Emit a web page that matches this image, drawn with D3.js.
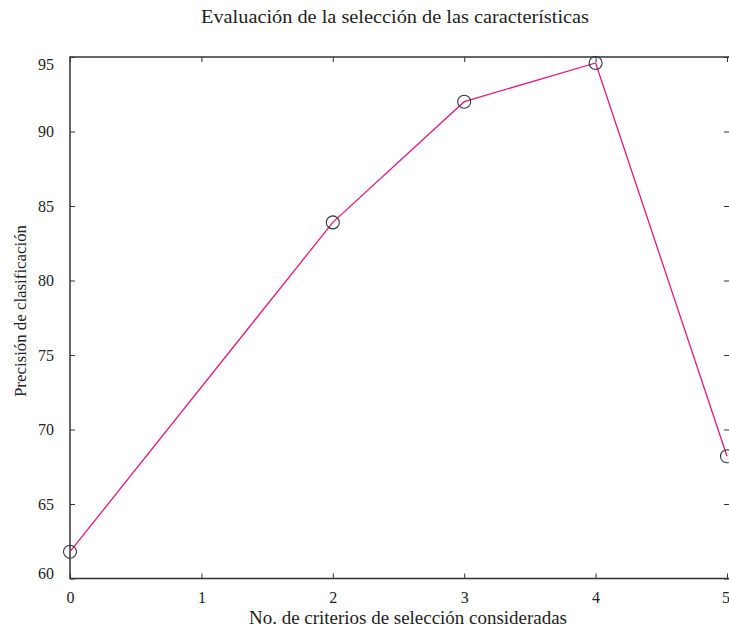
<!DOCTYPE html>
<html>
<head>
<meta charset="utf-8">
<script src="https://cdn.jsdelivr.net/npm/d3@7"></script>
<style>
  body { margin: 0; background: #fff; }
  svg { display: block; }
  text { font-family: "Liberation Serif", "DejaVu Serif", serif; fill: #222; }
</style>
</head>
<body>
<svg id="chart" width="729" height="634"></svg>
<script>
// data
const criterios = [0, 2, 3, 4, 5];
const precision = [61.8, 83.9, 92.0, 94.6, 68.2];
const xTicks = [0, 1, 2, 3, 4, 5];
const yTicks = [60, 65, 70, 75, 80, 85, 90, 95];

const title = "Evaluación de la selección de las características";
const xLabel = "No. de criterios de selección consideradas";
const yLabel = "Precisión de clasificación";

const svg = d3.select("#chart");
const plotLeft = 70, plotRight = 727, plotTop = 57, plotBottom = 578.5;

const x = d3.scaleLinear().domain([0, 5]).range([plotLeft, plotRight]);
const y = d3.scaleLinear().domain([60, 95]).range([plotBottom, plotTop]);

const frameColor = "#333";

// ticks on all four sides, pointing inward
const axes = svg.append("g");
const xAxis = axes.append("g").attr("transform", `translate(0,${plotBottom})`)
  .call(d3.axisBottom(x).tickValues(xTicks).tickSize(-5).tickPadding(13).tickFormat(d3.format("d")));
axes.append("g").attr("transform", `translate(0,${plotTop})`)
  .call(d3.axisTop(x).tickValues(xTicks).tickSize(-5).tickFormat(""));
const yAxis = axes.append("g").attr("transform", `translate(${plotLeft},0)`)
  .call(d3.axisLeft(y).tickValues(yTicks).tickSize(-5).tickPadding(16).tickFormat(d3.format("d")));
axes.append("g").attr("transform", `translate(${plotRight + 2},0)`)
  .call(d3.axisRight(y).tickValues(yTicks).tickSize(-5).tickFormat(""));

axes.selectAll(".domain").remove();
axes.selectAll(".tick line").attr("stroke", frameColor).attr("stroke-width", 1);
axes.selectAll(".tick text")
  .attr("font-family", "Liberation Serif")
  .attr("font-size", 16)
  .attr("fill", "#222");

// end labels are nudged inside the frame, as in the original
yAxis.selectAll(".tick text").attr("y", d => d === 95 ? 7 : d === 60 ? -5 : 0);
xAxis.selectAll(".tick text").attr("x", d => d === 5 ? -1.5 : 0);

// frame (right side sits just outside the picture)
svg.append("rect")
  .attr("x", plotLeft).attr("y", plotTop)
  .attr("width", plotRight + 4 - plotLeft).attr("height", plotBottom - plotTop)
  .attr("fill", "none").attr("stroke", frameColor).attr("stroke-width", 1.5);

// series
const pts = criterios.map((c, i) => [c, precision[i]]);
const line = d3.line().x(d => x(d[0])).y(d => y(d[1]));
svg.append("path")
  .attr("d", line(pts))
  .attr("fill", "none")
  .attr("stroke", "#e3197d")
  .attr("stroke-width", 1.3);

svg.append("g").selectAll("circle").data(pts).enter().append("circle")
  .attr("cx", d => x(d[0]))
  .attr("cy", d => y(d[1]))
  .attr("r", 6.5)
  .attr("fill", "none")
  .attr("stroke", "#333")
  .attr("stroke-width", 1.1);

// texts (the original is a little wider than the font's natural width)
svg.append("text")
  .attr("x", 395).attr("y", 23)
  .attr("text-anchor", "middle")
  .attr("font-size", 19.5)
  .attr("textLength", 388).attr("lengthAdjust", "spacingAndGlyphs")
  .text(title);

svg.append("text")
  .attr("x", 408).attr("y", 624)
  .attr("text-anchor", "middle")
  .attr("font-size", 18)
  .attr("textLength", 318).attr("lengthAdjust", "spacingAndGlyphs")
  .text(xLabel);

svg.append("text")
  .attr("transform", "translate(26,311) rotate(-90)")
  .attr("text-anchor", "middle")
  .attr("font-size", 17)
  .attr("textLength", 172).attr("lengthAdjust", "spacingAndGlyphs")
  .text(yLabel);
</script>
</body>
</html>
